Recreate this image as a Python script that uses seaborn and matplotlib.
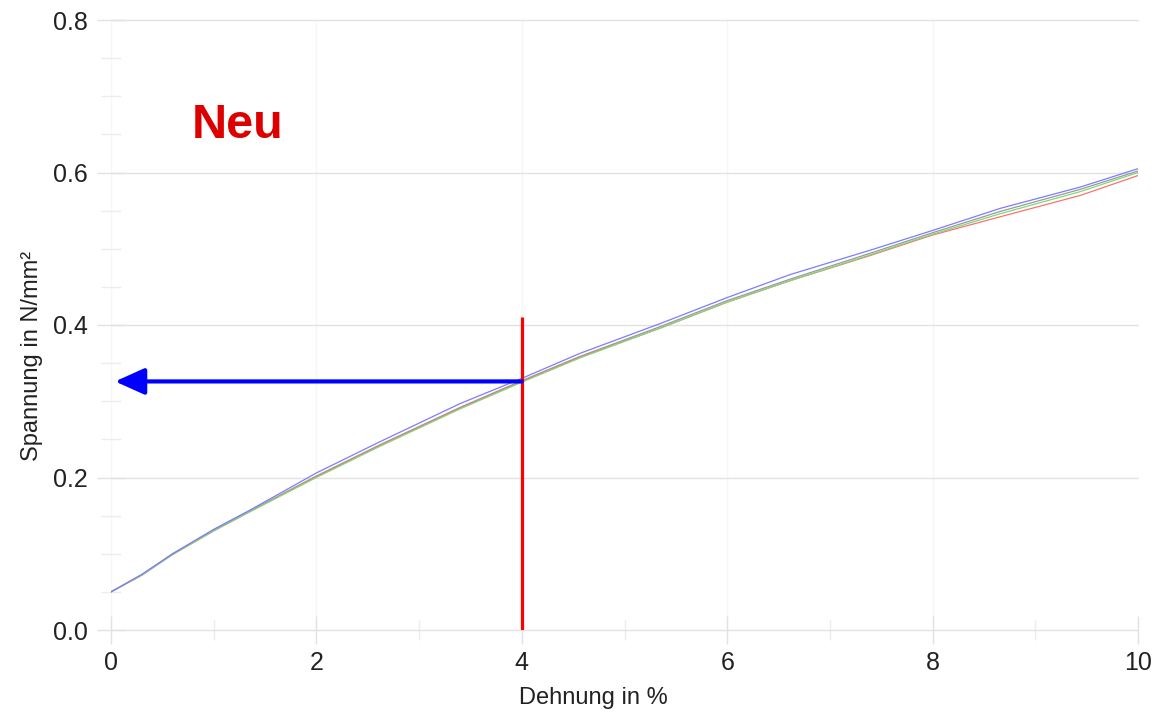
import numpy as np
import pandas as pd
import matplotlib
matplotlib.use("Agg")
import matplotlib.pyplot as plt
from matplotlib.ticker import MultipleLocator
import seaborn as sns

# Strain (%) sample positions and measured stress (N/mm²) for the four specimens
dehnung = [0, 0.3, 0.6, 1.0, 1.35, 2.0, 2.62, 3.4, 4.0, 4.57, 5.35, 6.0, 6.61, 7.39, 8.0, 8.66, 9.44, 10.0]
probe_blau = [0.050, 0.073, 0.100, 0.132, 0.157, 0.206, 0.247, 0.297, 0.330, 0.363, 0.402, 0.436, 0.466, 0.498, 0.524, 0.553, 0.581, 0.605]
probe_gruen = [0.050, 0.072, 0.099, 0.130, 0.155, 0.200, 0.241, 0.290, 0.325, 0.357, 0.396, 0.430, 0.458, 0.492, 0.519, 0.546, 0.575, 0.600]
probe_rot = [0.050, 0.072, 0.099, 0.130, 0.155, 0.201, 0.242, 0.291, 0.326, 0.358, 0.396, 0.430, 0.458, 0.491, 0.518, 0.542, 0.570, 0.596]
probe_grau = [0.050, 0.072, 0.100, 0.131, 0.156, 0.202, 0.243, 0.292, 0.327, 0.359, 0.398, 0.432, 0.460, 0.494, 0.521, 0.549, 0.578, 0.602]

# Marked reading at 4 % strain
dehnung_marke = 4.0
spannung_marke = 0.326
marke_oben = 0.41

sns.set_theme(style="white")
plt.rcParams["font.family"] = ["Liberation Sans", "DejaVu Sans"]

df = pd.DataFrame({
    "Dehnung": dehnung * 4,
    "Spannung": probe_blau + probe_gruen + probe_rot + probe_grau,
    "Probe": ["blau"] * len(dehnung) + ["gruen"] * len(dehnung)
             + ["rot"] * len(dehnung) + ["grau"] * len(dehnung),
})
palette = {"blau": "#7c7cff", "gruen": "#7ada7a", "rot": "#ff7070", "grau": "#9a9a9a"}

fig = plt.figure(figsize=(11.67, 7.12), dpi=100)
ax = fig.add_axes([111 / 1167, 1 - 630 / 712, (1138 - 111) / 1167, (630 - 20) / 712])

sns.lineplot(data=df, x="Dehnung", y="Spannung", hue="Probe", palette=palette,
             hue_order=["grau", "rot", "gruen", "blau"], linewidth=0.9,
             legend=False, ax=ax, estimator=None, sort=True)

ax.set_xlim(0, 10)
ax.set_ylim(0, 0.8)
ax.xaxis.set_major_locator(MultipleLocator(2))
ax.xaxis.set_minor_locator(MultipleLocator(1))
ax.yaxis.set_major_locator(MultipleLocator(0.2))
ax.yaxis.set_minor_locator(MultipleLocator(0.05))
ax.set_xticks([0, 2, 4, 6, 8, 10])
ax.set_xticklabels(["0", "2", "4", "6", "8", "10"])
ax.set_yticks([0, 0.2, 0.4, 0.6, 0.8])
ax.set_yticklabels(["0.0", "0.2", "0.4", "0.6", "0.8"])

for s in ax.spines.values():
    s.set_visible(False)
ax.grid(True, which="major", axis="y", color="#e2e2e2", linewidth=1.0, clip_on=False)
ax.grid(True, which="major", axis="x", color="#f6f6f6", linewidth=1.0)
ax.set_axisbelow(True)

ax.tick_params(axis="both", which="both", bottom=True, left=True)
ax.tick_params(axis="both", which="major", direction="inout", length=20, width=1,
               color="#e2e2e2", labelsize=18, labelcolor="#222222")
ax.tick_params(axis="both", which="minor", direction="inout", length=14, width=1,
               color="#ececec")
ax.tick_params(axis="x", which="major", pad=5)
ax.tick_params(axis="y", which="major", pad=7)

ax.set_xlabel("Dehnung in %", fontsize=17, color="#222222")
ax.set_ylabel("Spannung in N/mm²", fontsize=17, color="#222222")
ax.xaxis.set_label_coords(0.47, -0.093)
ax.yaxis.set_label_coords(-0.066, 0.45)

# Vertical marker at 4 % strain
ax.plot([dehnung_marke, dehnung_marke], [0, marke_oben], color="#ff0000",
        linewidth=2.3, solid_capstyle="butt", zorder=5)

# Arrow pointing to the stress axis
ax.annotate("", xy=(0.04, spannung_marke), xytext=(dehnung_marke, spannung_marke),
            arrowprops=dict(arrowstyle="-|>,head_length=1.0,head_width=0.45",
                            mutation_scale=18, color="#0000ff", lw=3.0,
                            shrinkA=0, shrinkB=0),
            zorder=6)

ax.text(1.23, 0.662, "Neu", color="#dd0000", fontsize=35, fontweight="bold",
        ha="center", va="center")

fig.savefig("out.png", dpi=100)
